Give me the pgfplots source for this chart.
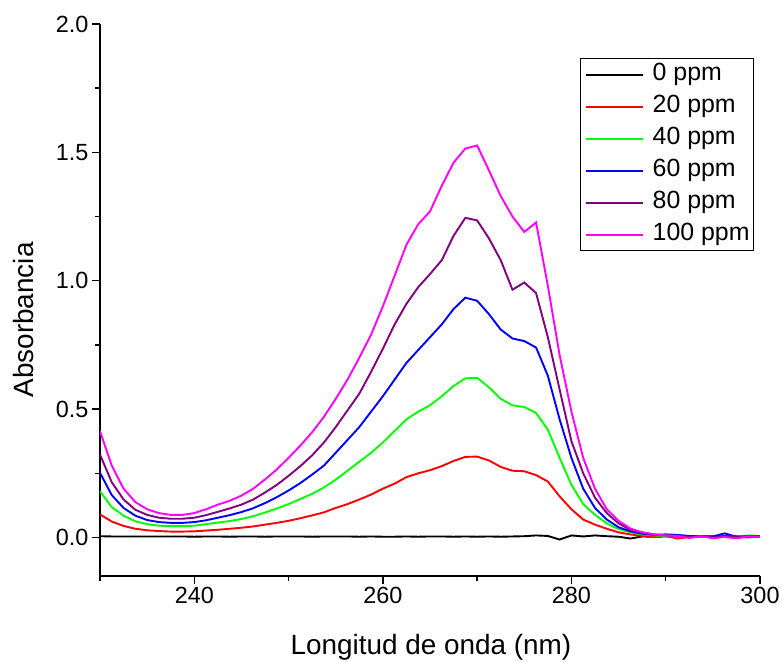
\documentclass[border=0pt]{standalone}
\usepackage{fontspec}
\setmainfont{Liberation Sans}
\usepackage{pgfplots}
\usepackage{pgfplotstable}
\pgfplotsset{compat=1.18}

\definecolor{cPurple}{RGB}{128,0,128}
\definecolor{cGreen}{RGB}{0,255,0}
\definecolor{cMagenta}{RGB}{255,0,255}

% absorbance spectra, wavelength step 1.25 nm
\pgfplotstableread{
x      c0     c20    c40    c60    c80    c100
230    0.005  0.090  0.180  0.252  0.323  0.414
231.25 0.004  0.062  0.118  0.165  0.215  0.280
232.5  0.004  0.045  0.085  0.115  0.148  0.190
233.75 0.004  0.034  0.063  0.085  0.108  0.138
235    0.004  0.028  0.052  0.068  0.088  0.110
236.25 0.004  0.025  0.046  0.060  0.077  0.095
237.5  0.004  0.023  0.044  0.057  0.073  0.088
238.75 0.004  0.023  0.044  0.057  0.073  0.088
240    0.003  0.024  0.046  0.060  0.077  0.095
241.25 0.004  0.027  0.052  0.067  0.087  0.110
242.5  0.004  0.030  0.058  0.077  0.100  0.128
243.75 0.003  0.034  0.064  0.087  0.113  0.143
245    0.004  0.038  0.072  0.099  0.128  0.163
246.25 0.004  0.043  0.083  0.114  0.148  0.190
247.5  0.003  0.050  0.097  0.134  0.175  0.226
248.75 0.004  0.057  0.113  0.157  0.205  0.265
250    0.004  0.065  0.130  0.183  0.240  0.310
251.25 0.004  0.075  0.150  0.212  0.278  0.358
252.5  0.003  0.086  0.170  0.245  0.320  0.410
253.75 0.004  0.098  0.195  0.280  0.370  0.470
255    0.004  0.115  0.225  0.330  0.430  0.540
256.25 0.004  0.130  0.260  0.380  0.495  0.615
257.5  0.003  0.148  0.295  0.430  0.560  0.700
258.75 0.004  0.167  0.330  0.490  0.645  0.790
260    0.003  0.190  0.370  0.550  0.735  0.900
261.25 0.003  0.210  0.415  0.615  0.830  1.020
262.5  0.004  0.235  0.460  0.680  0.910  1.140
263.75 0.003  0.250  0.490  0.730  0.975  1.220
265    0.004  0.262  0.515  0.780  1.026  1.270
266.25 0.004  0.278  0.550  0.830  1.080  1.370
267.5  0.003  0.298  0.590  0.890  1.175  1.460
268.75 0.004  0.314  0.620  0.934  1.245  1.515
270    0.003  0.315  0.622  0.922  1.235  1.527
271.25 0.004  0.300  0.585  0.870  1.165  1.430
272.5  0.003  0.275  0.540  0.810  1.080  1.330
273.75 0.004  0.260  0.515  0.775  0.965  1.250
275    0.005  0.258  0.508  0.765  0.993  1.190
276.25 0.008  0.243  0.485  0.740  0.952  1.227
277.5  0.006  0.218  0.420  0.630  0.780  0.980
278.75 -0.008 0.160  0.310  0.460  0.576  0.710
280    0.008  0.110  0.205  0.310  0.375  0.490
281.25 0.004  0.070  0.130  0.190  0.250  0.310
282.5  0.008  0.050  0.088  0.115  0.155  0.190
283.75 0.005  0.034  0.055  0.070  0.095  0.110
285    0.003  0.020  0.033  0.040  0.055  0.065
286.25 -0.004 0.012  0.020  0.024  0.030  0.035
287.5  0.004  0.006  0.012  0.015  0.020  0.020
288.75 0.003  0.003  0.008  0.010  0.012  0.012
290    0.004  0.006  0.006  0.012  0.008  0.008
291.25 0.003  -0.004 0.004  0.010  0.006  0.006
292.5  0.004  0.002  0.006  0.006  0.003  -0.002
293.75 0.005  0.004  0.003  0.004  0.006  0.005
295    0.004  0.002  0.002  0.004  0.000  -0.003
296.25 0.003  0.004  0.004  0.016  0.006  0.002
297.5  0.004  0.000  0.003  0.003  0.004  -0.003
298.75 0.003  0.002  0.008  0.005  0.000  0.004
300    0.003  0.004  0.006  0.004  0.004  0.002
}\spectra

\begin{document}
\begin{tikzpicture}
\path[use as bounding box] (-100bp,-86bp) rectangle (682bp,576bp);
\begin{axis}[
  at={(0,0)}, anchor=south west,
  scale only axis, width=660bp, height=552bp,
  xmin=230, xmax=300, ymin=-0.15, ymax=2.0,
  axis x line*=bottom, axis y line*=left,
  axis line style={-, line width=1.4bp, black},
  tick align=outside,
  xtick={240,260,280,300},
  minor xtick={230,250,270,290},
  ytick={0,0.5,1.0,1.5,2.0},
  minor ytick={0.25,0.75,1.25,1.75},
  major tick length=8bp, minor tick length=4.5bp,
  every tick/.style={black, line width=1.4bp},
  tick label style={font=\fontsize{23.5}{23.5}\selectfont},
  /pgf/number format/assume math mode=true,
  yticklabel style={/pgf/number format/.cd, fixed, fixed zerofill, precision=1},
  xticklabel style={/pgf/number format/.cd, 1000 sep={}},
  xlabel={Longitud de onda (nm)},
  ylabel={Absorbancia},
  label style={font=\fontsize{28}{28}\selectfont},
  xlabel style={at={(axis description cs:0.5015,-0.143)}, anchor=base},
  ylabel style={at={(axis description cs:-0.1015,0.464)}, anchor=base},
  legend style={at={(rel axis cs:0.991,0.938)}, anchor=north east,
    draw=black, line width=0.9bp, inner xsep=4bp, inner ysep=4bp,
    font=\fontsize{25}{25}\selectfont,
    nodes={inner sep=0pt, text height=18bp, text depth=6bp},
    row sep=8bp},
  legend cell align=left,
  legend image code/.code={\draw[#1] (0bp,0bp) -- (57bp,0bp);},
  /tikz/every odd column/.append style={column sep=9bp},
  every axis plot/.append style={line width=1.9bp},
]
\addplot[black]    table[x=x, y=c0]   {\spectra};
\addplot[red]      table[x=x, y=c20]  {\spectra};
\addplot[cGreen]   table[x=x, y=c40]  {\spectra};
\addplot[blue]     table[x=x, y=c60]  {\spectra};
\addplot[cPurple]  table[x=x, y=c80]  {\spectra};
\addplot[cMagenta] table[x=x, y=c100] {\spectra};
\legend{0 ppm, 20 ppm, 40 ppm, 60 ppm, 80 ppm, 100 ppm}
\end{axis}
\end{tikzpicture}
\end{document}
